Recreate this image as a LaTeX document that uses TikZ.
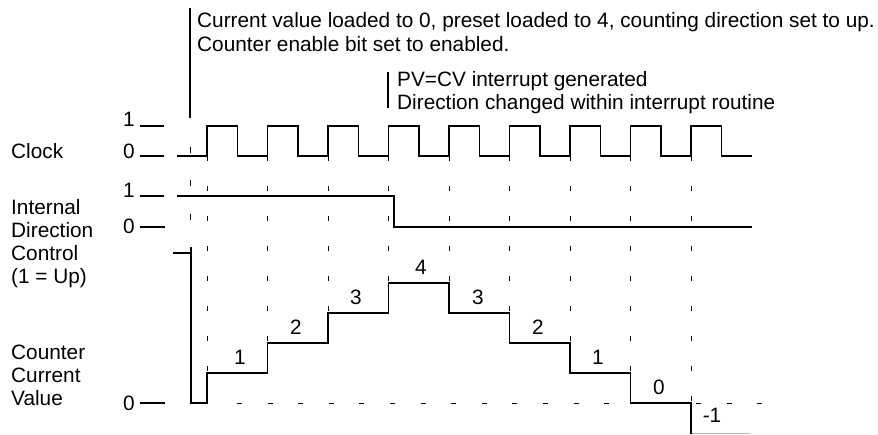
\documentclass[tikz,border=0pt]{standalone}
\usepackage{fontspec}
\setmainfont{Liberation Sans}
\begin{document}
\begin{tikzpicture}[x=1pt,y=-1pt,
  font=\fontsize{20.8}{23}\selectfont,
  wave/.style={line width=1.1pt},
  lvl/.style={line width=1.1pt},
  vdash/.style={line width=1pt, dash pattern=on 5pt off 25pt},
  vdashb/.style={line width=1pt, dash pattern=on 6pt off 27.3pt},
  hdash/.style={line width=1pt, dash pattern=on 5pt off 25.6pt},
  ann/.style={line width=1.2pt},
  txt/.style={inner sep=0pt, anchor=base west},
  dig/.style={inner sep=0pt, anchor=base},
  stepnum/.style={inner sep=0pt, anchor=center}]
\useasboundingbox (0,0) rectangle (878,434);

% annotations
\draw[ann] (190,8) -- (190,118);
\node[txt] (t1) at (197,27) {Current value loaded to 0, preset loaded to 4, counting direction set to up.};
\node[txt] (t2) at (197,51) {Counter enable bit set to enabled.};
\draw[ann] (388,72) -- (388,108);
\node[txt] (p1) at (397,86.5) {PV=CV interrupt generated};
\node[txt] (p2) at (397,109.5) {Direction changed within interrupt routine};

% left labels
\node[txt] (lclk) at (11,158) {Clock};
\node[txt] (ld1) at (11,214) {Internal};
\node[txt] (ld2) at (11,237) {Direction};
\node[txt] (ld3) at (11,260) {Control};
\node[txt] (ld4) at (11,283) {(1 = Up)};
\node[txt] (lc1) at (11,359) {Counter};
\node[txt] (lc2) at (11,382) {Current};
\node[txt] (lc3) at (11,405) {Value};

% level digits and marks
\node[dig] (c1) at (129,126.5) {1};
\node[dig] (c0) at (129,158) {0};
\node[dig] (d1) at (129,197) {1};
\node[dig] (d0) at (129,233) {0};
\node[dig] (v0) at (129,410) {0};
\draw[lvl] (140,126) -- (164,126);
\draw[lvl] (140,156) -- (164,156);
\draw[lvl] (140,196) -- (164,196);
\draw[lvl] (140,227) -- (165,227);
\draw[lvl] (140,403) -- (165,403);

% clock
\draw[wave] (177,156) -- (207,156)
  \foreach \k in {0,...,8} { -- ({207+60.5*\k},156) -- ({207+60.5*\k},126)
  -- ({237.5+60.5*\k},126) -- ({237.5+60.5*\k},156) } -- (752,156);

% direction
\draw[wave] (177,196) -- (394,196) -- (394,227) -- (752,227);

% dashed verticals
\foreach \k/\yb in {0/373,1/343,2/313,3/283,4/283,5/313,6/343,7/373,8/403}
  \draw[vdash] ({207+60.5*\k},156) -- ({207+60.5*\k},\yb);
\draw[vdashb] (190,147) -- (190,247);

% counter zero dashed line
\draw[hdash] (237,403) -- (764,403);
\draw[gray!55, line width=1pt] (691,433) -- (750,433);

% counter value
\draw[wave] (173,253) -- (191,253);
\draw[wave] (191,247) -- (191,403) -- (207,403) -- (207,373) -- (267.5,373)
  -- (267.5,343) -- (328,343) -- (328,313) -- (388.5,313) -- (388.5,283)
  -- (449,283) -- (449,313) -- (509.5,313) -- (509.5,343) -- (570,343)
  -- (570,373) -- (630.5,373) -- (630.5,403) -- (691,403) -- (691,434);

% step values
\node[stepnum] (s1) at (240,357) {1};
\node[stepnum] (s2) at (296,327) {2};
\node[stepnum] (s3) at (356,297) {3};
\node[stepnum] (s4) at (421,267) {4};
\node[stepnum] (s5) at (478,297) {3};
\node[stepnum] (s6) at (538,327) {2};
\node[stepnum] (s7) at (598,357) {1};
\node[stepnum] (s8) at (659,387) {0};
\node[stepnum] (s9) at (712,415) {-1};
\end{tikzpicture}
\end{document}
